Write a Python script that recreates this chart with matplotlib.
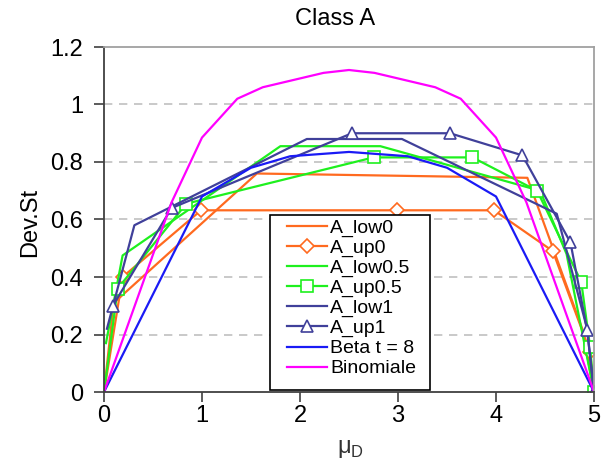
import matplotlib
matplotlib.use("Agg")
import matplotlib.pyplot as plt
from matplotlib.patches import Rectangle

plt.rcParams['font.family'] = ['Liberation Sans', 'DejaVu Sans']

# series
x_low0 = [0, 0.1, 1.56, 4.32, 4.88, 5]
y_low0 = [0, 0.31, 0.76, 0.745, 0.22, 0]

x_up0 = [0, 0.19, 0.99, 2.99, 3.98, 4.58, 4.96, 5]
y_up0 = [0, 0.40, 0.632, 0.632, 0.632, 0.49, 0.14, 0]

x_low05 = [0.02, 0.19, 1.8, 2.82, 4.45, 4.72, 5]
y_low05 = [0.17, 0.475, 0.855, 0.855, 0.70, 0.48, 0]

x_up05 = [0, 0.14, 0.84, 2.75, 3.76, 4.42, 4.87, 4.96, 5]
y_up05 = [0, 0.36, 0.655, 0.816, 0.816, 0.70, 0.383, 0.157, 0]

x_low1 = [0.03, 0.31, 2.07, 3.04, 4.62, 4.93, 5]
y_low1 = [0.22, 0.58, 0.88, 0.88, 0.62, 0.22, 0]

x_up1 = [0.09, 0.69, 2.53, 3.53, 4.27, 4.76, 4.93, 5]
y_up1 = [0.30, 0.64, 0.90, 0.90, 0.823, 0.52, 0.215, 0]

x_beta = [0, 1.0, 1.5, 1.9, 2.5, 3.1, 3.5, 4.0, 5]
y_beta = [0, 0.68, 0.78, 0.82, 0.835, 0.82, 0.78, 0.68, 0]

x_binom = [0, 0.69, 1.0, 1.36, 1.62, 2.24, 2.5, 2.76, 3.38, 3.64, 4.0, 4.31, 5]
y_binom = [0, 0.66, 0.885, 1.02, 1.06, 1.11, 1.12, 1.11, 1.06, 1.02, 0.885, 0.66, 0]

x_ticks = [0, 1, 2, 3, 4, 5]
y_ticks = [0, 0.2, 0.4, 0.6, 0.8, 1.0, 1.2]
y_ticklabels = ['0', '0.2', '0.4', '0.6', '0.8', '1', '1.2']

orange = '#FF6A1F'
green = '#1EF01E'
navy = '#40409A'
blue = '#1A1AF5'
magenta = '#FF00FF'

fig = plt.figure(figsize=(6.01, 4.61), dpi=100)
ax = fig.add_axes([104 / 601, 1 - 392 / 461, 490 / 601, 345 / 461])

lw = 1.6
ax.plot(x_low0, y_low0, color=orange, lw=lw, label='A_low0')
ax.plot(x_up0, y_up0, color=orange, lw=lw, marker='D', ms=7, mfc='white',
        mec=orange, mew=1.2, markevery=slice(1, -1), label='A_up0')
ax.plot(x_low05, y_low05, color=green, lw=lw, label='A_low0.5')
ax.plot(x_up05, y_up05, color=green, lw=lw, marker='s', ms=8, mfc='white',
        mec=green, mew=1.2, markevery=slice(1, None), label='A_up0.5')
ax.plot(x_low1, y_low1, color=navy, lw=lw, label='A_low1')
ax.plot(x_up1, y_up1, color=navy, lw=lw, marker='^', ms=9, mfc='white',
        mec=navy, mew=1.2, label='A_up1')
ax.plot(x_beta, y_beta, color=blue, lw=lw, label='Beta t = 8')
ax.plot(x_binom, y_binom, color=magenta, lw=lw, label='Binomiale')

ax.set_xlim(0, 5)
ax.set_ylim(0, 1.2)
ax.set_xticks(x_ticks)
ax.set_yticks(y_ticks)
ax.set_yticklabels(y_ticklabels)
ax.tick_params(axis='both', direction='out', length=7, width=1.2,
               color='#404040', labelsize=17, pad=8)
ax.tick_params(axis='x', pad=2)

for y in y_ticks[1:-1]:
    ax.axhline(y, color='#C0C0C0', lw=1.2, ls=(0, (5, 4)), zorder=0)

for side in ['left', 'bottom']:
    ax.spines[side].set_color('#404040')
    ax.spines[side].set_linewidth(1.3)
for side in ['top', 'right']:
    ax.spines[side].set_color('#A0A0A0')
    ax.spines[side].set_linewidth(1.3)

fig.text(335 / 601, 1 - 19 / 461, 'Class A', ha='center', va='center', fontsize=17)
fig.text(30 / 601, 1 - 222 / 461, 'Dev.St', ha='center', va='center',
         rotation=90, fontsize=17)
fig.text(350 / 601, 1 - 449 / 461, 'μ$_\\mathregular{D}$', ha='center', va='center',
         fontsize=17, color='#333333')

# legend box drawn by hand so the left inset can be wider than the top one
box = Rectangle((166 / 490, 2 / 345), 160 / 490, 175 / 345, transform=ax.transAxes,
                facecolor='white', edgecolor='black', lw=1.2, zorder=5)
ax.add_patch(box)
leg = ax.legend(loc='upper left', bbox_to_anchor=(183 / 490, 173 / 345),
                fontsize=14, frameon=False, borderpad=0, labelspacing=0.12,
                handlelength=2.06, handletextpad=0.15, borderaxespad=0)
leg.set_zorder(6)

fig.savefig('out.png', dpi=100)
